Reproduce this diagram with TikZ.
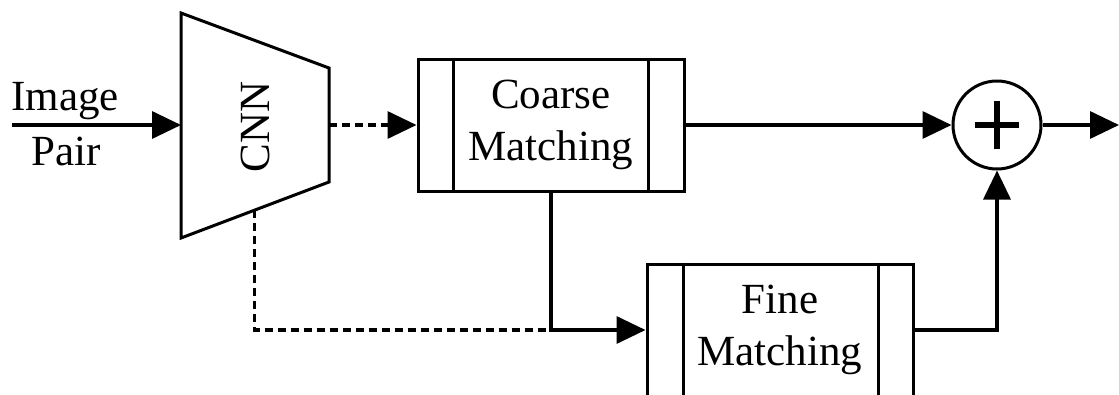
\documentclass[tikz,border=0pt]{standalone}
\usepackage{fontspec}
\setmainfont{Liberation Serif}
\usetikzlibrary{arrows.meta,calc}
\begin{document}
\begin{tikzpicture}[x=1pt,y=-1pt,
  line width=3.4pt,
  tip/.style={-{Triangle[length=29pt,width=27pt]}},
  dots/.style={dash pattern=on 8pt off 5pt},
  lbl/.style={font=\fontsize{43}{52}\selectfont, align=center, inner sep=0pt},
  matchbox/.style={draw, line width=3pt, minimum width=266pt, minimum height=132pt,
    font=\fontsize{43}{52}\selectfont, align=center, inner sep=0pt},
  sumnode/.style={draw, circle, line width=3pt, minimum size=88pt, inner sep=0pt}]
\useasboundingbox (0,0) rectangle (1119,394);
\begin{scope}
\clip (0,0) rectangle (1119,394);

% CNN encoder (trapezoid)
\coordinate (cnnTL) at (181,13);
\coordinate (cnnTR) at (329,68);
\coordinate (cnnBR) at (329,182);
\coordinate (cnnBL) at (181,238);
\draw[line width=3pt, line join=miter] (cnnTL) -- (cnnTR) -- (cnnBR) -- (cnnBL) -- cycle;
\node[lbl, rotate=90] (cnn) at (255,127) {CNN};
\coordinate (cnnL) at (181,125);
\coordinate (cnnR) at (329,125);
\coordinate (cnnB) at ($(cnnBL)!0.495!(cnnBR)$);

% input label
\node[lbl, anchor=base] (img) at (65,110) {Image};
\node[lbl, anchor=base] (pair) at (66,165) {Pair};
\coordinate (in) at (12,125);

% matching blocks
\node[matchbox] (coarse) at (551,125) {Coarse\\Matching};
\draw[line width=3pt] ([xshift=37pt]coarse.north west) -- ([xshift=37pt]coarse.south west)
  ([xshift=-37pt]coarse.north east) -- ([xshift=-37pt]coarse.south east);
\node[matchbox] (fine) at (780,330) {Fine\\Matching};
\draw[line width=3pt] ([xshift=38pt]fine.north west) -- ([xshift=38pt]fine.south west)
  ([xshift=-36pt]fine.north east) -- ([xshift=-36pt]fine.south east);

% summation
\node[sumnode] (sum) at (997,125) {};
\draw[line width=5.5pt] ([xshift=-22pt]sum.center) -- ([xshift=22pt]sum.center)
  ([yshift=-24pt]sum.center) -- ([yshift=24pt]sum.center);
\coordinate (out) at (1119,125);

% connectors
\coordinate (join) at (coarse.south |- fine.west);
\draw[tip] (in) -- (cnnL);
\draw[dots] (cnnR) -- ([xshift=-29pt]coarse.west);
\draw[tip] ([xshift=-30pt]coarse.west) -- (coarse.west);
\draw[dots] (cnnB) |- (join);
\draw[tip] (coarse.south) -- (join) -- (fine.west);
\draw[tip] (coarse.east) -- (sum.west);
\draw[tip] (sum.east) -- (out);
\draw[tip] (fine.east) -| (sum.south);
\end{scope}
\end{tikzpicture}
\end{document}
